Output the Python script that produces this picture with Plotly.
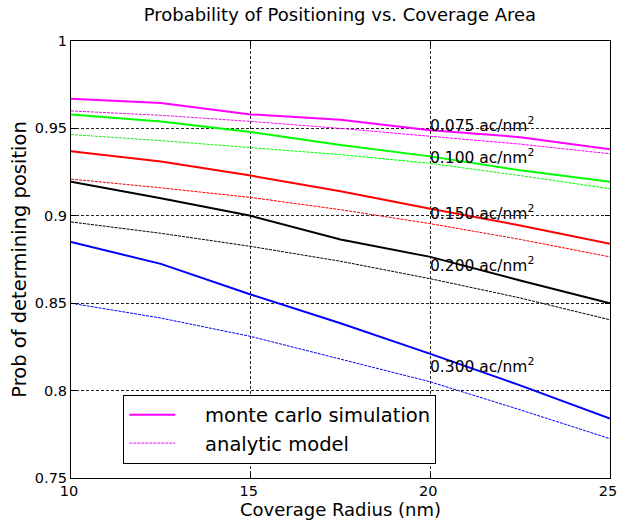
import plotly.graph_objects as go

# Coverage radius samples (nm)
radius = [10, 12.5, 15, 17.5, 20, 22.5, 25]

# Anchor densities (ac/nm^2) and their colours
densities = ["0.075", "0.100", "0.150", "0.200", "0.300"]
colors = ["#FF00FF", "#00FF00", "#FF0000", "#000000", "#0000FF"]

# Monte Carlo simulation results
mc_075 = [0.967, 0.9645, 0.958, 0.955, 0.949, 0.945, 0.938]
mc_100 = [0.958, 0.954, 0.948, 0.9405, 0.934, 0.926, 0.9195]
mc_150 = [0.937, 0.931, 0.923, 0.914, 0.904, 0.8945, 0.884]
mc_200 = [0.9195, 0.910, 0.900, 0.8865, 0.8765, 0.863, 0.850]
mc_300 = [0.885, 0.8725, 0.855, 0.8385, 0.821, 0.803, 0.784]

# Analytic model predictions
an_075 = [0.960, 0.9575, 0.954, 0.950, 0.9455, 0.941, 0.9355]
an_100 = [0.9465, 0.943, 0.939, 0.935, 0.930, 0.923, 0.9155]
an_150 = [0.921, 0.916, 0.9105, 0.9035, 0.8955, 0.8865, 0.8765]
an_200 = [0.8965, 0.890, 0.8825, 0.874, 0.864, 0.853, 0.8405]
an_300 = [0.850, 0.8415, 0.831, 0.818, 0.805, 0.789, 0.7725]

# Curve label positions
label_x = [20, 20, 20, 20, 20]
label_y = [0.952, 0.934, 0.902, 0.872, 0.8145]

mc_series = [mc_075, mc_100, mc_150, mc_200, mc_300]
an_series = [an_075, an_100, an_150, an_200, an_300]

FONT = "DejaVu Sans, Arial, sans-serif"
NBSP = "\u00a0"

fig = go.Figure()

for i, (mc, col) in enumerate(zip(mc_series, colors)):
    fig.add_trace(go.Scatter(
        x=radius, y=mc, mode="lines",
        line=dict(color=col, width=2),
        name=NBSP * 4 + "monte carlo simulation", showlegend=(i == 0),
    ))
for i, (an, col) in enumerate(zip(an_series, colors)):
    fig.add_trace(go.Scatter(
        x=radius, y=an, mode="lines",
        line=dict(color=col, width=1, dash="3px,1px"),
        name=NBSP * 4 + "analytic model", showlegend=(i == 0),
    ))

for d, lx, ly in zip(densities, label_x, label_y):
    fig.add_annotation(
        x=lx, y=ly, xref="x", yref="y",
        text=f"{d} ac/nm<sup>2</sup>", showarrow=False,
        xanchor="left", yanchor="middle", xshift=-2,
        font=dict(family=FONT, size=15.5, color="black"),
    )

axis_common = dict(
    showline=True, linecolor="black", linewidth=1, mirror="ticks",
    ticks="inside", ticklen=5, tickcolor="black",
    showgrid=True, gridcolor="#222222", gridwidth=1, griddash="3px,2px",
    zeroline=False, ticklabeloverflow="allow", automargin=False,
    tickfont=dict(family=FONT, size=14.5, color="black"),
)

fig.update_xaxes(
    range=[10, 25], tickvals=[10, 15, 20, 25], ticklabelshift=-2,
    title=dict(text="Coverage Radius (nm)", font=dict(family=FONT, size=18, color="black"), standoff=4),
    **axis_common,
)
fig.update_yaxes(
    range=[0.75, 1], tickvals=[0.75, 0.8, 0.85, 0.9, 0.95, 1],
    ticktext=["0.75", "0.8", "0.85", "0.9", "0.95", "1"],
    title=dict(text="Prob of determining position", font=dict(family=FONT, size=19.5, color="black"), standoff=2),
    **axis_common,
)

fig.update_layout(
    width=618, height=524,
    margin=dict(l=71, r=8, t=41, b=46),
    paper_bgcolor="white", plot_bgcolor="white",
    title=dict(text="Probability of Positioning vs. Coverage Area",
               x=0.55, xanchor="center", y=0.972, yanchor="middle",
               font=dict(family=FONT, size=18, color="black")),
    legend=dict(
        x=0.097, y=0.033, xanchor="left", yanchor="bottom",
        bgcolor="white", bordercolor="black", borderwidth=1,
        font=dict(family=FONT, size=19.5, color="black"),
        itemwidth=46, tracegroupgap=0,
    ),
    showlegend=True,
)

fig.write_html("out.html")
